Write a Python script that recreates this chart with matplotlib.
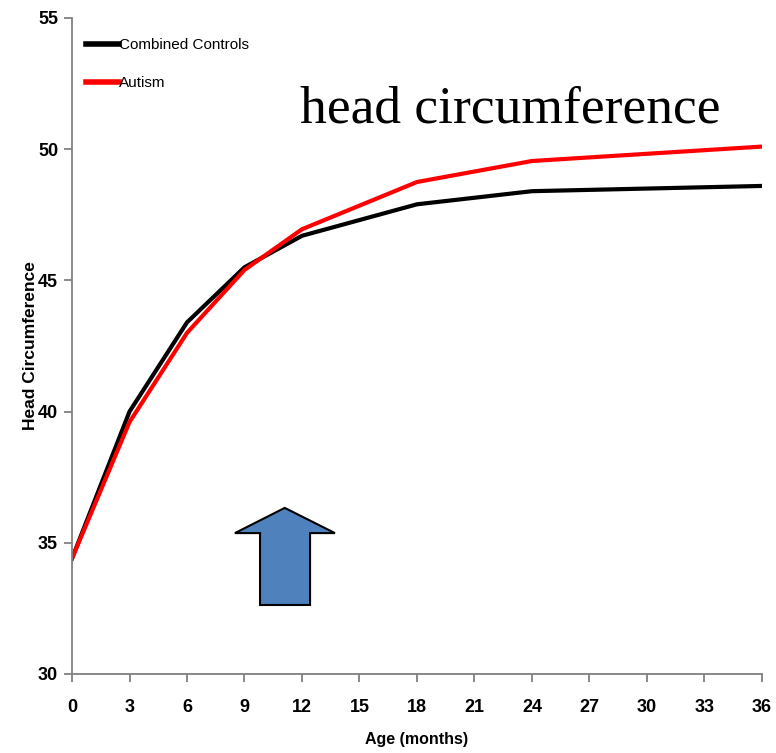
import matplotlib
matplotlib.use("Agg")
import matplotlib.pyplot as plt
from matplotlib.patches import Polygon

plt.rcParams['font.family'] = ['Liberation Sans Narrow', 'Liberation Sans', 'DejaVu Sans']

age = [0, 3, 6, 9, 12, 18, 24, 36]
controls = [34.4, 40.0, 43.4, 45.5, 46.7, 47.9, 48.4, 48.6]
autism = [34.4, 39.6, 43.0, 45.4, 46.95, 48.75, 49.55, 50.1]
xticks = list(range(0, 37, 3))
yticks = [30, 35, 40, 45, 50, 55]

fig = plt.figure(figsize=(7.76, 7.53), dpi=100)
ax = fig.add_axes([72/776, 1 - 674/753, (762-72)/776, (674-18)/753])

ax.plot(age, controls, color='black', lw=3, label='Combined Controls', solid_joinstyle='miter')
ax.plot(age, autism, color='#ff0000', lw=3, label='Autism', solid_joinstyle='miter')

ax.set_xlim(0, 36)
ax.set_ylim(30, 55)
ax.set_xticks(xticks)
ax.set_yticks(yticks)
for s in ['top', 'right']:
    ax.spines[s].set_visible(False)
for s in ['left', 'bottom']:
    ax.spines[s].set_color('#808080')
    ax.spines[s].set_linewidth(1.3)
ax.tick_params(colors='#808080', length=6, width=1.3, labelcolor='black', labelsize=13)
ax.tick_params(axis='x', pad=12)
ax.tick_params(axis='y', pad=4)
for lb in ax.get_xticklabels() + ax.get_yticklabels():
    lb.set_fontweight('bold')
ax.set_xlabel('Age (months)', fontsize=11.5, fontweight='bold')
ax.xaxis.set_label_coords(0.5, -0.088)
ax.set_ylabel('Head Circumference', fontsize=12.5, fontweight='bold')
ax.yaxis.set_label_coords(-0.049, 0.5)

leg = ax.legend(loc='upper left', bbox_to_anchor=(0.0, 0.99), frameon=False, fontsize=11,
                handlelength=2.2, handletextpad=0.0, labelspacing=1.55)
for h in leg.get_lines():
    h.set_linewidth(4)

ax.text(0.330, 0.841, 'head circumference', transform=ax.transAxes, fontsize=38.5,
        family=['Liberation Serif', 'DejaVu Serif'], va='baseline')

# block arrow, in data units
arrow = Polygon([(11.1, 36.33), (13.72, 35.37), (12.42, 35.37), (12.42, 32.63),
                 (9.81, 32.63), (9.81, 35.37), (8.5, 35.37)], closed=True,
                facecolor='#4f81bd', edgecolor='black', lw=1.5)
ax.add_patch(arrow)

fig.savefig('out.png', dpi=100)
